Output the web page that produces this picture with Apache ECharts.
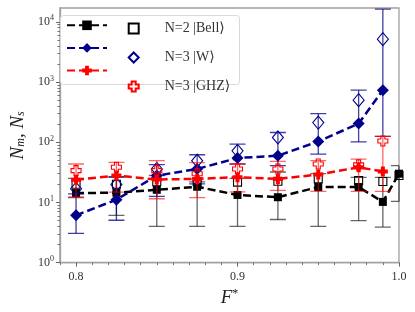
<!DOCTYPE html>
<html><head><meta charset="utf-8">
<script src="https://cdn.jsdelivr.net/npm/echarts@6/dist/echarts.min.js"></script>
<style>html,body{margin:0;padding:0;background:#fff}#c{width:415px;height:312px}</style>
</head><body><div id="c"></div>
<script>
// ---- data ----
const xBell = [0.8, 0.825, 0.85, 0.875, 0.9, 0.925, 0.95, 0.975, 0.99, 1.0];
const xThree = [0.8, 0.825, 0.85, 0.875, 0.9, 0.925, 0.95, 0.975, 0.99];

const bellNm = [14.3, 14.5, 16.2, 18.2, 13.3, 12.2, 18, 18, 10.2, 30];
const bellNs = [20, 20, 22, 22, 21.7, 22.5, 24.6, 23, 22.2, 28];
const bellLo = [12, 6.1, 4, 4, 4, 5.2, 4, 5, 3.9, 10.4];
const bellHi = [25, 26, 28, 22, 25, 32, 30, 26, 26, 40.8];

const wNm = [6.1, 11.1, 27.9, 36, 54.7, 59.7, 103, 204, 733];
const wNs = [16.8, 19.8, 36, 49.3, 72, 120, 212, 500, 5160];
const wLo = [3.05, 5.05, 12.6, 20.4, 43.5, 40.8, 63.6, 101, 125];
const wHi = [13.9, 26.8, 42.4, 62, 93, 145, 299, 733, 16300];

const ghzNm = [23.7, 27.9, 24, 24.6, 26.3, 24.6, 29, 38.4, 32.5];
const ghzNs = [33.7, 38.4, 33.7, 30, 36, 36, 43.5, 42, 105];
const ghzLo = [12.3, 14.8, 11.5, 12, 15, 15.8, 15.2, 15.2, 15.2];
const ghzHi = [43.5, 46.4, 49.3, 46, 43.5, 48, 49.3, 52.6, 125];

const xMajorTicks = [0.8, 0.9, 1.0];
const xMinorTicks = [0.79, 0.81, 0.82, 0.83, 0.84, 0.85, 0.86, 0.87, 0.88, 0.89,
  0.91, 0.92, 0.93, 0.94, 0.95, 0.96, 0.97, 0.98, 0.99];
const yMajorTicks = [1, 10, 100, 1000, 10000];
const yMinorTicks = [2,3,4,5,6,7,8,9,20,30,40,50,60,70,80,90,200,300,400,500,600,700,800,900,
  2000,3000,4000,5000,6000,7000,8000,9000];
const legendLabels = ['N=2 |Bell\u27E9', 'N=3 |W\u27E9', 'N=3 |GHZ\u27E9'];

// ---- styling ----
const SERIF = '"Liberation Serif","DejaVu Serif",serif';
const BLACK = '#000000', BLUE = '#00008b', RED = '#ff0000';
const PLUS = 'path://M3,0H7V3H10V7H7V10H3V7H0V3H3Z';
const frame = '#a0a0a0';

function pairs(xs, ys) { return xs.map((x, i) => [x, ys[i]]); }

function lineSeries(name, xs, ys, color, symbol, size, z) {
  return {
    type: 'line', name, data: pairs(xs, ys), z,
    symbol, symbolSize: size, showSymbol: true,
    itemStyle: { color },
    lineStyle: { color, width: 2.5, type: [8, 4] },
    xAxisIndex: 0, yAxisIndex: 0, animation: false, clip: true
  };
}
function openSeries(name, xs, ys, color, symbol, size, z) {
  return {
    type: 'scatter', name, data: pairs(xs, ys), z,
    symbol, symbolSize: size,
    itemStyle: { color: 'rgba(255,255,255,0)', borderColor: color, borderWidth: 1.1, opacity: 1 },
    xAxisIndex: 0, yAxisIndex: 0, animation: false
  };
}
function errSeries(name, xs, lo, hi, color, z) {
  return {
    type: 'custom', name, z,
    xAxisIndex: 0, yAxisIndex: 0, animation: false, clip: true,
    data: xs.map((x, i) => [x, lo[i], hi[i]]),
    encode: { x: 0, y: [1, 2] },
    renderItem: function (params, api) {
      const cs = params.coordSys;
      const x = api.value(0);
      const a = api.coord([x, api.value(1)]);
      const b = api.coord([x, api.value(2)]);
      const hw = 8;
      const L = Math.max(cs.x, a[0] - hw), R = Math.min(cs.x + cs.width, a[0] + hw);
      const st = { stroke: color, lineWidth: 1.3 };
      return {
        type: 'group', children: [
          { type: 'line', shape: { x1: a[0], y1: a[1], x2: b[0], y2: b[1] }, style: st },
          { type: 'line', shape: { x1: L, y1: a[1], x2: R, y2: a[1] }, style: st },
          { type: 'line', shape: { x1: L, y1: b[1], x2: R, y2: b[1] }, style: st }
        ]
      };
    }
  };
}

const xBase = { type: 'value', min: 0.79, max: 1.0, splitLine: { show: false } };
const yBase = { type: 'log', logBase: 10, min: 1, max: 17000, splitLine: { show: false } };

const option = {
  backgroundColor: '#fff',
  animation: false,
  grid: { left: 53, top: 8, right: 16, bottom: 48, show: true, borderColor: frame, borderWidth: 1.3, backgroundColor: 'transparent' },
  xAxis: [
    Object.assign({}, xBase, {
      position: 'bottom',
      axisLine: { show: true, lineStyle: { color: frame, width: 1.3 } },
      axisTick: { show: true, length: 2.5, customValues: xMinorTicks, lineStyle: { color: '#555', width: 0.8 } },
      axisLabel: { show: false }
    }),
    Object.assign({}, xBase, {
      position: 'bottom',
      axisLine: { show: false },
      axisTick: { show: true, length: 4, customValues: xMajorTicks, lineStyle: { color: '#555', width: 0.9 } },
      axisLabel: { show: true, customValues: xMajorTicks, margin: 8, color: '#333', fontFamily: SERIF, fontSize: 12,
        formatter: v => Number(v).toFixed(1) },
      name: '{i|F}{s|*}', nameLocation: 'middle', nameGap: 21,
      nameTextStyle: { rich: {
        i: { fontFamily: SERIF, fontStyle: 'italic', fontSize: 19, color: '#222' },
        s: { fontFamily: SERIF, fontSize: 12, color: '#222', padding: [0, 0, 8, 0] }
      } }
    })
  ],
  yAxis: [
    Object.assign({}, yBase, {
      position: 'left',
      axisLine: { show: true, lineStyle: { color: frame, width: 1.3 } },
      axisTick: { show: true, length: 4, customValues: yMajorTicks, lineStyle: { color: '#555', width: 0.9 } },
      axisLabel: { show: true, customValues: yMajorTicks, margin: 6, color: '#333',
        formatter: v => '{b|10}{s|' + Math.round(Math.log10(v)) + '}',
        rich: {
          b: { fontFamily: SERIF, fontSize: 12, color: '#333' },
          s: { fontFamily: SERIF, fontSize: 8, color: '#333', padding: [0, 0, 7, 0] }
        } },
      name: '{i|N}{sub|m}{i|, N}{sub|s}', nameLocation: 'middle', nameGap: 28, nameRotate: 90,
      nameTextStyle: { rich: {
        i: { fontFamily: SERIF, fontStyle: 'italic', fontSize: 19, color: '#222' },
        sub: { fontFamily: SERIF, fontStyle: 'italic', fontSize: 12, color: '#222', padding: [6, 0, 0, 0] }
      } }
    }),
    Object.assign({}, yBase, {
      position: 'left',
      axisLine: { show: false },
      axisTick: { show: true, length: 2.5, customValues: yMinorTicks, lineStyle: { color: '#555', width: 0.8 } },
      axisLabel: { show: false }
    })
  ],
  graphic: [{
    type: 'rect', left: 60, top: 15, z: 3,
    shape: { width: 179, height: 69, r: 3 },
    style: { fill: 'rgba(255,255,255,0.85)', stroke: '#d8d8d8', lineWidth: 1 }
  }],
  legend: [
    {
      data: ['bellNm', 'wNm', 'ghzNm'], orient: 'vertical', left: 66, top: 20.5, padding: 0,
      itemWidth: 40, itemHeight: 12, itemGap: 13, selectedMode: false, z: 5,
      formatter: () => '', textStyle: { fontSize: 1, lineHeight: 1 }
    },
    {
      data: ['bellNs', 'wNs', 'ghzNs'], orient: 'vertical', left: 127.7, top: 21.5, padding: 0,
      itemWidth: 10, itemHeight: 10, itemGap: 15, selectedMode: false, z: 5,
      formatter: name => '{t|' + legendLabels[['bellNs', 'wNs', 'ghzNs'].indexOf(name)] + '}',
      textStyle: { lineHeight: 10, rich: { t: { fontFamily: SERIF, fontSize: 14, lineHeight: 10, color: '#333', padding: [0, 0, 0, 21] } } }
    }
  ],
  series: [
    errSeries('bellErr', xBell, bellLo, bellHi, 'rgba(0,0,0,0.6)', 2),
    lineSeries('bellNm', xBell, bellNm, BLACK, 'rect', 8, 3),
    openSeries('bellNs', xBell, bellNs, BLACK, 'rect', 8, 3),
    errSeries('wErr', xThree, wLo, wHi, 'rgba(0,0,139,0.75)', 4),
    lineSeries('wNm', xThree, wNm, BLUE, 'diamond', 12, 5),
    openSeries('wNs', xThree, wNs, BLUE, 'diamond', [11, 13], 5),
    errSeries('ghzErr', xThree, ghzLo, ghzHi, 'rgba(255,0,0,0.6)', 6),
    lineSeries('ghzNm', xThree, ghzNm, RED, PLUS, 10, 7),
    openSeries('ghzNs', xThree, ghzNs, RED, PLUS, 10, 7)
  ]
};
const chart = echarts.init(document.getElementById('c'), null, { renderer: 'canvas' });
chart.setOption(option);
</script></body></html>
